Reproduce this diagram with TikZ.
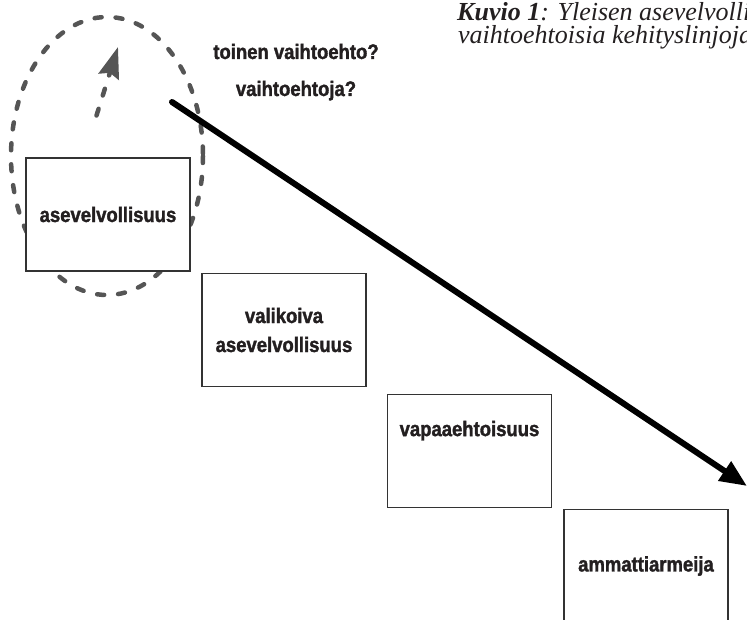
\documentclass[tikz,border=0pt]{standalone}
\usepackage{fontspec}
\setmainfont{Liberation Sans}
\newfontfamily\boxfont[FakeStretch=0.88,FakeBold=1.6]{Liberation Sans Bold}
\newfontfamily\capfont{Liberation Serif}
\usetikzlibrary{arrows.meta}
\definecolor{txt}{HTML}{231F20}
\definecolor{ringgray}{HTML}{555555}
\definecolor{boxline}{HTML}{333333}
\begin{document}
\begin{tikzpicture}[x=1pt,y=-1pt,
  stepbox/.style={draw=boxline, line width=1.1pt, fill=white, minimum width=164pt,
    minimum height=113pt, inner sep=0pt, text=txt, align=center,
    font=\boxfont\fontsize{21}{29}\selectfont},
  qlabel/.style={anchor=base, text=txt, font=\boxfont\fontsize{21}{24}\selectfont},
  caplabel/.style={anchor=base west, text=txt, inner sep=0pt,
    font=\capfont\itshape\fontsize{26}{30}\selectfont},
  dashring/.style={draw=ringgray, line width=4.5pt, dash pattern=on 7pt off 14pt, line cap=round},
  mainarrow/.style={draw=black, line width=6pt, line cap=round,
    -{Triangle[length=27pt,width=22pt]}}
]
\useasboundingbox (0,0) rectangle (747,620);
\clip (0,0) rectangle (747,620);

% dashed ring and its arrow
\node[draw=none, inner sep=0pt] (ringc) at (107,156) {};
\draw[dashring] (ringc) ellipse [x radius=96, y radius=139];
\coordinate (ia) at (96.5,115.5);
\coordinate (ib) at (118,47);
\draw[dashring, -{Stealth[length=31pt,width=21pt,inset=4pt,fill=ringgray,color=ringgray]}] (ia) -- (ib);

% boxes
\node[stepbox] (b1) at (108,214.5) {asevelvollisuus};
\node[stepbox] (b2) at (284,330) {valikoiva\\asevelvollisuus};
\node[stepbox] (b3) at (469.5,451) {vapaaehtoisuus\\[16pt]\mbox{}};
\node[stepbox] (b4) at (646,566) {ammattiarmeija};

% question labels
\node[qlabel] (q1) at (296,59) {toinen vaihtoehto?};
\node[qlabel] (q2) at (296,96) {vaihtoehtoja?};

% caption
\node[caplabel] (c1) at (457,20.5) {{\bfseries Kuvio 1}: Yleisen asevelvollisuuden};
\node[caplabel] (c2) at (458,44) {vaihtoehtoisia kehityslinjoja};

% main arrow
\coordinate (ms) at (172,102);
\coordinate (me) at (747,486);
\draw[mainarrow] (ms) -- (me);
\end{tikzpicture}
\end{document}
